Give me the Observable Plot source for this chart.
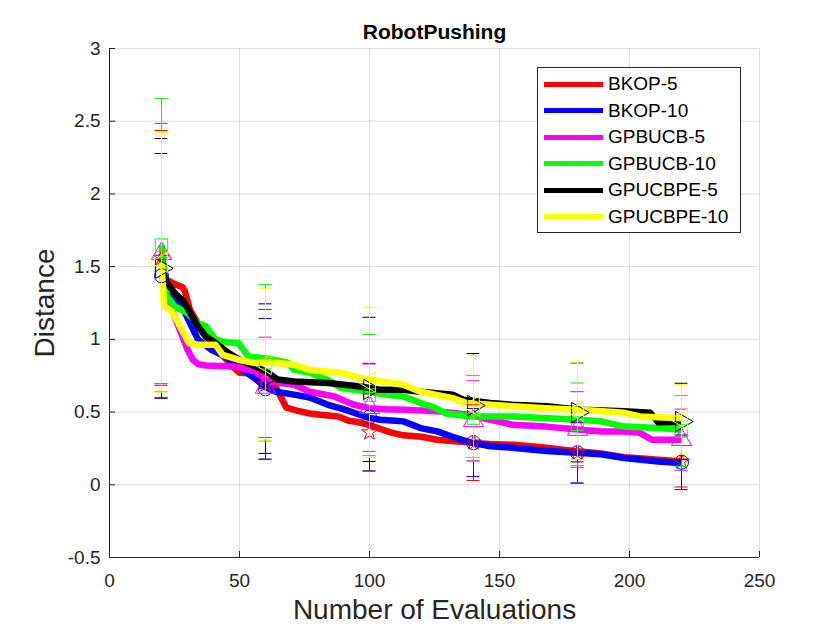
<!DOCTYPE html>
<html>
<head>
<meta charset="utf-8">
<script src="https://cdn.jsdelivr.net/npm/d3@7"></script>
<script src="https://cdn.jsdelivr.net/npm/@observablehq/plot@0.6"></script>
<style>
  html, body { margin: 0; padding: 0; background: #fff; }
  #wrap { position: relative; width: 840px; height: 630px; font-family: "Liberation Sans", Arial, sans-serif; }
  #legend { position: absolute; left: 537px; top: 67px; width: 202px; height: 164px; border: 1px solid #262626; background: #fff; }
  .row { position: absolute; left: 0; height: 26px; display: flex; align-items: center; }
  .swatch { width: 59px; height: 5px; margin-left: 6px; margin-right: 5px; }
  .lab { font-size: 19px; color: #000; }
</style>
</head>
<body>
<div id="wrap"><div id="legend"></div></div>
<script>
const seriesNames = ["BKOP-5", "BKOP-10", "GPBUCB-5", "GPBUCB-10", "GPUCBPE-5", "GPUCBPE-10"];
const seriesColors = ["#ff0000", "#0000ff", "#ff00ff", "#00ff00", "#000000", "#ffff00"];

// Curves (number of evaluations, distance)
const bkop5X = [20, 21, 25, 28, 29, 31, 35, 40, 44, 47, 50, 55, 57, 60, 64, 66, 68, 72, 77, 82, 88, 92, 96, 100, 104, 108, 113, 120, 126, 133, 139, 146, 155, 162, 168, 175, 181, 189, 198, 205, 211, 220];
const bkop5Y = [1.55, 1.42, 1.38, 1.36, 1.33, 1.2, 1.08, 0.95, 0.88, 0.82, 0.77, 0.765, 0.74, 0.69, 0.67, 0.6, 0.53, 0.51, 0.49, 0.48, 0.47, 0.44, 0.43, 0.41, 0.385, 0.36, 0.34, 0.33, 0.31, 0.30, 0.29, 0.28, 0.275, 0.265, 0.255, 0.24, 0.229, 0.215, 0.19, 0.18, 0.172, 0.16];

const bkop10X = [20, 22, 25, 28, 30.5, 34, 39, 43.5, 47, 52, 56, 60, 64, 71, 77, 84, 90, 96.5, 100, 104, 110, 113, 119.6, 126, 132, 139, 146.5, 155, 168, 181, 189, 198, 211, 220];
const bkop10Y = [1.44, 1.34, 1.30, 1.22, 1.13, 1.0, 0.93, 0.89, 0.85, 0.78, 0.73, 0.67, 0.64, 0.62, 0.6, 0.55, 0.52, 0.48, 0.46, 0.447, 0.44, 0.436, 0.39, 0.367, 0.33, 0.29, 0.265, 0.255, 0.232, 0.218, 0.21, 0.184, 0.16, 0.15];

const gpbucb5X = [20, 22, 24, 26.5, 28, 30, 32, 34, 37, 45, 49.6, 53, 56, 60, 66, 71, 77, 86, 94, 100, 106, 113, 126, 139, 146.5, 155, 168, 181, 189, 198, 204, 208.5, 220];
const gpbucb5Y = [1.59, 1.3, 1.2, 1.09, 1.02, 0.93, 0.86, 0.83, 0.82, 0.815, 0.81, 0.79, 0.78, 0.72, 0.70, 0.688, 0.64, 0.61, 0.55, 0.527, 0.52, 0.516, 0.505, 0.48, 0.447, 0.413, 0.40, 0.378, 0.367, 0.367, 0.357, 0.31, 0.31];

const gpbucb10X = [20, 22, 25, 30, 34, 37, 40.8, 45, 49.6, 53.5, 60, 68.5, 71, 77, 84, 89, 100, 106, 113, 119.6, 125, 129.5, 139, 146.5, 155, 168, 181, 189, 198, 211, 220];
const gpbucb10Y = [1.65, 1.3, 1.226, 1.18, 1.11, 1.09, 0.997, 0.98, 0.975, 0.88, 0.87, 0.84, 0.79, 0.77, 0.72, 0.665, 0.64, 0.62, 0.607, 0.562, 0.53, 0.49, 0.47, 0.47, 0.47, 0.458, 0.447, 0.436, 0.40, 0.39, 0.378];

const gpucbpe5X = [20, 22, 25, 28, 30.5, 34, 37, 40.8, 45.8, 51, 56, 61, 64.6, 71, 84, 96.5, 104, 113, 119.6, 132, 136, 146.5, 155, 168, 181, 198, 208, 211, 220];
const gpucbpe5Y = [1.49, 1.39, 1.32, 1.27, 1.2, 1.09, 1.02, 0.975, 0.906, 0.85, 0.815, 0.77, 0.724, 0.71, 0.70, 0.676, 0.653, 0.653, 0.64, 0.62, 0.585, 0.563, 0.55, 0.54, 0.516, 0.505, 0.495, 0.43, 0.43];

const gpucbpe10X = [20, 21, 24, 26.5, 30.5, 34, 40.8, 43.5, 49.6, 56, 61, 71, 77, 89, 96.5, 104, 113, 119.6, 132, 137, 146.5, 155, 168, 181, 198, 204, 220];
const gpucbpe10Y = [1.53, 1.23, 1.19, 1.11, 0.975, 0.963, 0.963, 0.894, 0.86, 0.837, 0.845, 0.825, 0.79, 0.77, 0.733, 0.712, 0.688, 0.64, 0.596, 0.563, 0.55, 0.54, 0.527, 0.516, 0.495, 0.47, 0.458];

// Error bars at sampled evaluation counts
const barEvals = [20, 60, 100, 140, 180, 220];
const bkop5Mean = [1.56, 0.69, 0.36, 0.29, 0.22, 0.16];
const bkop5Err = [0.876, 0.515, 0.265, 0.26, 0.21, 0.175];
const bkop10Mean = [1.437, 0.66, 0.465, 0.29, 0.22, 0.155];
const bkop10Err = [0.841, 0.483, 0.37, 0.234, 0.207, 0.188];
const gpbucb5Mean = [1.59, 0.67, 0.53, 0.44, 0.38, 0.31];
const gpbucb5Err = [0.895, 0.345, 0.3, 0.275, 0.26, 0.21];
const gpbucb10Mean = [1.648, 0.839, 0.617, 0.456, 0.416, 0.37];
const gpbucb10Err = [1.008, 0.538, 0.416, 0.295, 0.284, 0.243];
const gpucbpe5Mean = [1.489, 0.73, 0.656, 0.545, 0.497, 0.435];
const gpucbpe5Err = [0.892, 0.514, 0.496, 0.357, 0.34, 0.263];
const gpucbpe10Mean = [1.53, 0.827, 0.705, 0.54, 0.505, 0.45];
const gpucbpe10Err = [0.894, 0.52, 0.516, 0.351, 0.333, 0.24];

const xTicks = [0, 50, 100, 150, 200, 250];
const yTicks = [-0.5, 0, 0.5, 1, 1.5, 2, 2.5, 3];

const curveX = [bkop5X, bkop10X, gpbucb5X, gpbucb10X, gpucbpe5X, gpucbpe10X];
const curveY = [bkop5Y, bkop10Y, gpbucb5Y, gpbucb10Y, gpucbpe5Y, gpucbpe10Y];
const means = [bkop5Mean, bkop10Mean, gpbucb5Mean, gpbucb10Mean, gpucbpe5Mean, gpucbpe10Mean];
const errs = [bkop5Err, bkop10Err, gpbucb5Err, gpbucb10Err, gpucbpe5Err, gpucbpe10Err];
const markerSymbols = ["star", "circle", "triangle", "square", "triangle", "triangle"];
const markerRotate = [0, 0, 0, 0, 90, -90];
const markerR = [5, 7, 7.5, 7, 7.5, 7.5];

const lineRows = [];
seriesNames.forEach((s, i) => curveX[i].forEach((x, j) => lineRows.push({series: s, x, y: curveY[i][j]})));
const barRows = [];
seriesNames.forEach((s, i) => barEvals.forEach((x, j) => barRows.push({series: s, idx: i, x, mean: means[i][j], lo: means[i][j] - errs[i][j], hi: means[i][j] + errs[i][j]})));

const capHalf = 2.5;
const axisColor = "#262626";

const barMarks = [];
seriesNames.forEach((s, i) => {
  const rows = barRows.filter(d => d.series === s);
  barMarks.push(
    Plot.ruleX(rows, {x: "x", y1: "lo", y2: "hi", stroke: "series", strokeWidth: 1}),
    Plot.ruleY(rows, {y: "lo", x1: d => d.x - capHalf, x2: d => d.x + capHalf, stroke: "series", strokeWidth: 1}),
    Plot.ruleY(rows, {y: "hi", x1: d => d.x - capHalf, x2: d => d.x + capHalf, stroke: "series", strokeWidth: 1}),
    Plot.dot(rows, {x: "x", y: "mean", stroke: "series", fill: "none", symbol: markerSymbols[i], rotate: markerRotate[i], r: markerR[i], strokeWidth: 1})
  );
});

const chart = Plot.plot({
  width: 840,
  height: 630,
  marginLeft: 109,
  marginRight: 81,
  marginTop: 48,
  marginBottom: 73,
  style: {fontFamily: "Liberation Sans, Arial, sans-serif", background: "#fff", overflow: "visible"},
  x: {domain: [0, 250]},
  y: {domain: [-0.5, 3]},
  color: {domain: seriesNames, range: seriesColors},
  marks: [
    Plot.gridX(xTicks, {stroke: axisColor, strokeOpacity: 0.15}),
    Plot.gridY(yTicks, {stroke: axisColor, strokeOpacity: 0.15}),
    Plot.line(lineRows, {x: "x", y: "y", z: "series", stroke: "series", strokeWidth: 6.5, strokeLinejoin: "round", strokeLinecap: "butt"}),
    ...barMarks,
    Plot.ruleX([0], {stroke: axisColor, strokeWidth: 1}),
    Plot.ruleY([-0.5], {stroke: axisColor, strokeWidth: 1}),
    Plot.axisX(xTicks, {tickSize: -6, tickPadding: 22, fontSize: 19, fill: axisColor, stroke: axisColor, tickFormat: d => String(d), label: null}),
    Plot.axisY(yTicks, {tickSize: -6, tickPadding: 15, fontSize: 19, fill: axisColor, stroke: axisColor, tickFormat: d => String(d), label: null}),
    Plot.text(["RobotPushing"], {frameAnchor: "top", lineAnchor: "middle", textAnchor: "middle", dy: -16, fontSize: 21, fontWeight: "bold", fill: "#000"}),
    Plot.text(["Number of Evaluations"], {frameAnchor: "bottom", lineAnchor: "middle", textAnchor: "middle", dy: 53, fontSize: 28, fill: axisColor}),
    Plot.text(["Distance"], {frameAnchor: "left", lineAnchor: "middle", textAnchor: "middle", dx: -64, rotate: -90, fontSize: 28, fill: axisColor})
  ]
});
document.getElementById("wrap").prepend(chart);

const legend = document.getElementById("legend");
seriesNames.forEach((s, i) => {
  const row = document.createElement("div");
  row.className = "row";
  row.style.top = (3 + i * 26.5) + "px";
  const sw = document.createElement("div");
  sw.className = "swatch";
  sw.style.background = seriesColors[i];
  const lab = document.createElement("span");
  lab.className = "lab";
  lab.textContent = s;
  row.appendChild(sw);
  row.appendChild(lab);
  legend.appendChild(row);
});
</script>
</body>
</html>
